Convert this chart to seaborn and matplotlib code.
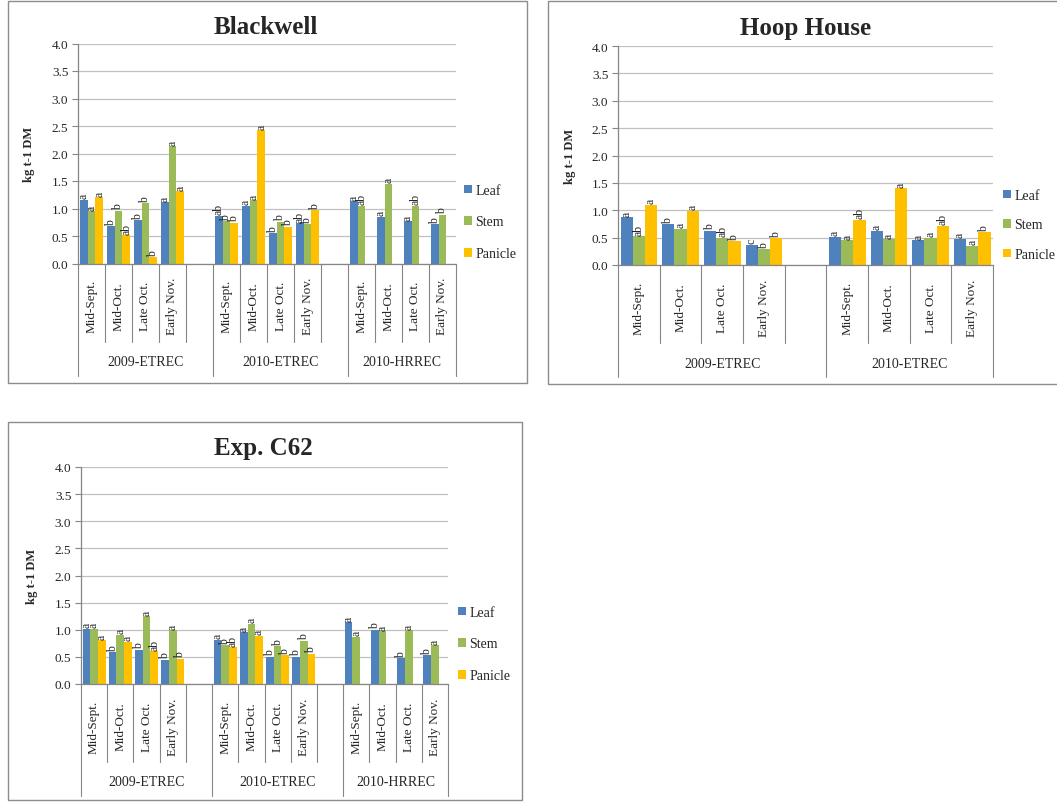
import numpy as np
import pandas as pd
import matplotlib
matplotlib.use("Agg")
import matplotlib.pyplot as plt
import seaborn as sns
from matplotlib import transforms
from matplotlib.patches import Rectangle, Patch

sns.set_theme(style="white")
plt.rcParams["font.family"] = ["Liberation Serif", "DejaVu Serif"]

W, H = 1057, 803

PARTS = ["Leaf", "Stem", "Panicle"]
COLORS = ["#4F81BD", "#9BBB59", "#FFC000"]
DATES = ["Mid-Sept.", "Mid-Oct.", "Late Oct.", "Early Nov."]
Y_TICKS = [0.0, 0.5, 1.0, 1.5, 2.0, 2.5, 3.0, 3.5, 4.0]
Y_LABEL = "kg t-1 DM"

# ---- Blackwell ----
bw_sites = ["2009-ETREC", "2010-ETREC", "2010-HRREC"]
bw_leaf = [1.16, 0.68, 0.79, 1.11, 0.87, 1.05, 0.55, 0.73, 1.13, 0.85, 0.77, 0.72]
bw_stem = [0.95, 0.96, 1.10, 2.13, 0.77, 1.15, 0.76, 0.72, 1.05, 1.45, 1.05, 0.89]
bw_panicle = [1.21, 0.51, 0.11, 1.32, 0.74, 2.42, 0.67, 0.97, None, None, None, None]
bw_leaf_sig = ["a", "b", "b", "a", "ab", "a", "b", "ab", "a", "a", "a", "b"]
bw_stem_sig = ["a", "b", "b", "a", "b", "a", "b", "b", "ab", "a", "ab", "b"]
bw_panicle_sig = ["a", "ab", "b", "a", "b", "a", "b", "b", None, None, None, None]

# ---- Hoop House ----
hh_sites = ["2009-ETREC", "2010-ETREC"]
hh_leaf = [0.87, 0.74, 0.63, 0.37, 0.52, 0.63, 0.45, 0.48]
hh_stem = [0.53, 0.66, 0.50, 0.29, 0.45, 0.47, 0.50, 0.35]
hh_panicle = [1.10, 0.99, 0.44, 0.49, 0.83, 1.40, 0.72, 0.60]
hh_leaf_sig = ["a", "b", "b", "c", "a", "a", "a", "a"]
hh_stem_sig = ["ab", "a", "ab", "b", "a", "a", "a", "a"]
hh_panicle_sig = ["a", "a", "b", "b", "ab", "a", "ab", "b"]

# ---- Exp. C62 ----
c62_sites = ["2009-ETREC", "2010-ETREC", "2010-HRREC"]
c62_leaf = [1.02, 0.59, 0.63, 0.45, 0.82, 0.95, 0.50, 0.50, 1.14, 1.00, 0.48, 0.53]
c62_stem = [1.02, 0.91, 1.25, 0.99, 0.71, 1.11, 0.70, 0.80, 0.87, 0.97, 0.99, 0.71]
c62_panicle = [0.81, 0.78, 0.61, 0.47, 0.68, 0.89, 0.53, 0.56, None, None, None, None]
c62_leaf_sig = ["a", "b", "b", "b", "a", "a", "b", "b", "a", "b", "b", "b"]
c62_stem_sig = ["a", "a", "a", "a", "b", "a", "b", "b", "a", "a", "a", "a"]
c62_panicle_sig = ["a", "a", "ab", "b", "ab", "a", "b", "b", None, None, None, None]

AXIS_GRAY = "#868686"
GRID_GRAY = "#C0C0C0"
BOX_GRAY = "#8C8C8C"

fig = plt.figure(figsize=(W / 100, H / 100), dpi=100)


def add_axes_px(x0, y0, x1, y1):
    return fig.add_axes([x0 / W, 1 - y1 / H, (x1 - x0) / W, (y1 - y0) / H])


def draw_panel(title, sites, leaf, stem, panicle, sigs, box, area, title_xy,
               ylabel_x, legend_xy, legend_spacing):
    # outer chart frame
    bx0, by0, bx1, by1 = box
    fig.patches.append(Rectangle((bx0 / W, 1 - by1 / H), (bx1 - bx0) / W,
                                 (by1 - by0) / H, transform=fig.transFigure,
                                 fill=False, edgecolor=BOX_GRAY, linewidth=1.0))

    # slot layout: four dates per site, an empty slot between sites
    order, slot_labels, groups = [], [], []
    rows = []
    k = 0
    for g, site in enumerate(sites):
        start = len(order)
        for d, date in enumerate(DATES):
            key = f"{site}|{date}"
            order.append(key)
            slot_labels.append(date)
            for part, vals in zip(PARTS, (leaf, stem, panicle)):
                v = vals[k]
                if v is not None:
                    rows.append({"slot": key, "part": part, "value": v})
            k += 1
        if g < len(sites) - 1:
            order.append(f"gap{g}")
            slot_labels.append(None)
        groups.append((start - 0.5, len(order) - 0.5, site))
    df = pd.DataFrame(rows)

    ax = add_axes_px(*area)
    ax_w = area[2] - area[0]
    ax_h = area[3] - area[1]

    sns.barplot(data=df, x="slot", y="value", hue="part", order=order,
                hue_order=PARTS, palette=COLORS, width=0.88, saturation=1,
                errorbar=None, linewidth=0, legend=False, ax=ax)

    n = len(order)
    ax.set_xlim(-0.5, n - 0.5)
    ax.set_ylim(0, 4.0)
    ax.set_yticks(Y_TICKS)
    ax.set_yticklabels([f"{t:.1f}" for t in Y_TICKS], fontsize=9.5)
    ax.set_xticks([])
    ax.set_xlabel("")
    ax.set_axisbelow(True)
    ax.yaxis.grid(True, color=GRID_GRAY, linewidth=0.9)
    for side in ("top", "right"):
        ax.spines[side].set_visible(False)
    for side in ("left", "bottom"):
        ax.spines[side].set_color(AXIS_GRAY)
        ax.spines[side].set_linewidth(0.9)
    ax.tick_params(axis="y", direction="out", length=4, width=0.8,
                   color=AXIS_GRAY, pad=3, left=True)

    ax.set_ylabel(Y_LABEL, fontsize=9, fontweight="bold")
    ax.yaxis.set_label_coords((ylabel_x - area[0]) / ax_w, 0.5)

    # significance letters above the bars
    sig_lookup = {}
    k = 0
    for key in order:
        if key.startswith("gap"):
            continue
        for p, s in zip(PARTS, sigs):
            sig_lookup[(key, p)] = s[k]
        k += 1
    for part, cont in zip(PARTS, ax.containers):
        for bar in cont:
            xc = bar.get_x() + bar.get_width() / 2
            slot = order[int(round(xc))]
            letter = sig_lookup.get((slot, part))
            if letter:
                ax.annotate(letter, xy=(xc, bar.get_height()), xytext=(0, 1),
                            textcoords="offset points", rotation=90,
                            ha="center", va="bottom", fontsize=8.5)

    # two-level category axis
    tr = transforms.blended_transform_factory(ax.transData, ax.transAxes)
    short = -78 / ax_h
    long_ = -112 / ax_h
    bounds = {round(g0, 1) for g0, g1, _ in groups} | {round(groups[-1][1], 1)}
    for b in np.arange(-0.5, n, 1.0):
        is_group = round(b, 1) in bounds
        ax.plot([b, b], [0, long_ if is_group else short], transform=tr,
                color=AXIS_GRAY, linewidth=0.8, clip_on=False)
    for i, lab in enumerate(slot_labels):
        if lab:
            ax.text(i, -42 / ax_h, lab, transform=tr, rotation=90,
                    ha="center", va="center", fontsize=9.5)
    for g0, g1, site in groups:
        ax.text((g0 + g1) / 2, -98 / ax_h, site, transform=tr,
                ha="center", va="center", fontsize=10)

    fig.text(title_xy[0] / W, 1 - title_xy[1] / H, title, ha="center",
             va="center", fontsize=18, fontweight="bold")

    handles = [Patch(facecolor=c, edgecolor="none") for c in COLORS]
    ax.legend(handles, PARTS, loc="center left",
              bbox_to_anchor=(legend_xy[0] / W, 1 - legend_xy[1] / H),
              bbox_transform=fig.transFigure, frameon=False, fontsize=10,
              handlelength=0.55, handleheight=0.55, handletextpad=0.25,
              labelspacing=legend_spacing, borderpad=0, borderaxespad=0)
    return ax


draw_panel("Blackwell", bw_sites, bw_leaf, bw_stem, bw_panicle,
           (bw_leaf_sig, bw_stem_sig, bw_panicle_sig),
           box=(8, 2, 527, 384), area=(78, 44.5, 456, 264.5),
           title_xy=(266, 28), ylabel_x=35, legend_xy=(464, 223),
           legend_spacing=1.35)

draw_panel("Hoop House", hh_sites, hh_leaf, hh_stem, hh_panicle,
           (hh_leaf_sig, hh_stem_sig, hh_panicle_sig),
           box=(548, 2, 1064, 385), area=(618, 47, 993, 266),
           title_xy=(806, 28), ylabel_x=576, legend_xy=(1003, 226),
           legend_spacing=1.2)

draw_panel("Exp. C62", c62_sites, c62_leaf, c62_stem, c62_panicle,
           (c62_leaf_sig, c62_stem_sig, c62_panicle_sig),
           box=(8, 423, 522, 801), area=(81, 468, 448, 685),
           title_xy=(263, 449), ylabel_x=38, legend_xy=(458, 645),
           legend_spacing=1.35)

fig.savefig("out.png", dpi=100)
